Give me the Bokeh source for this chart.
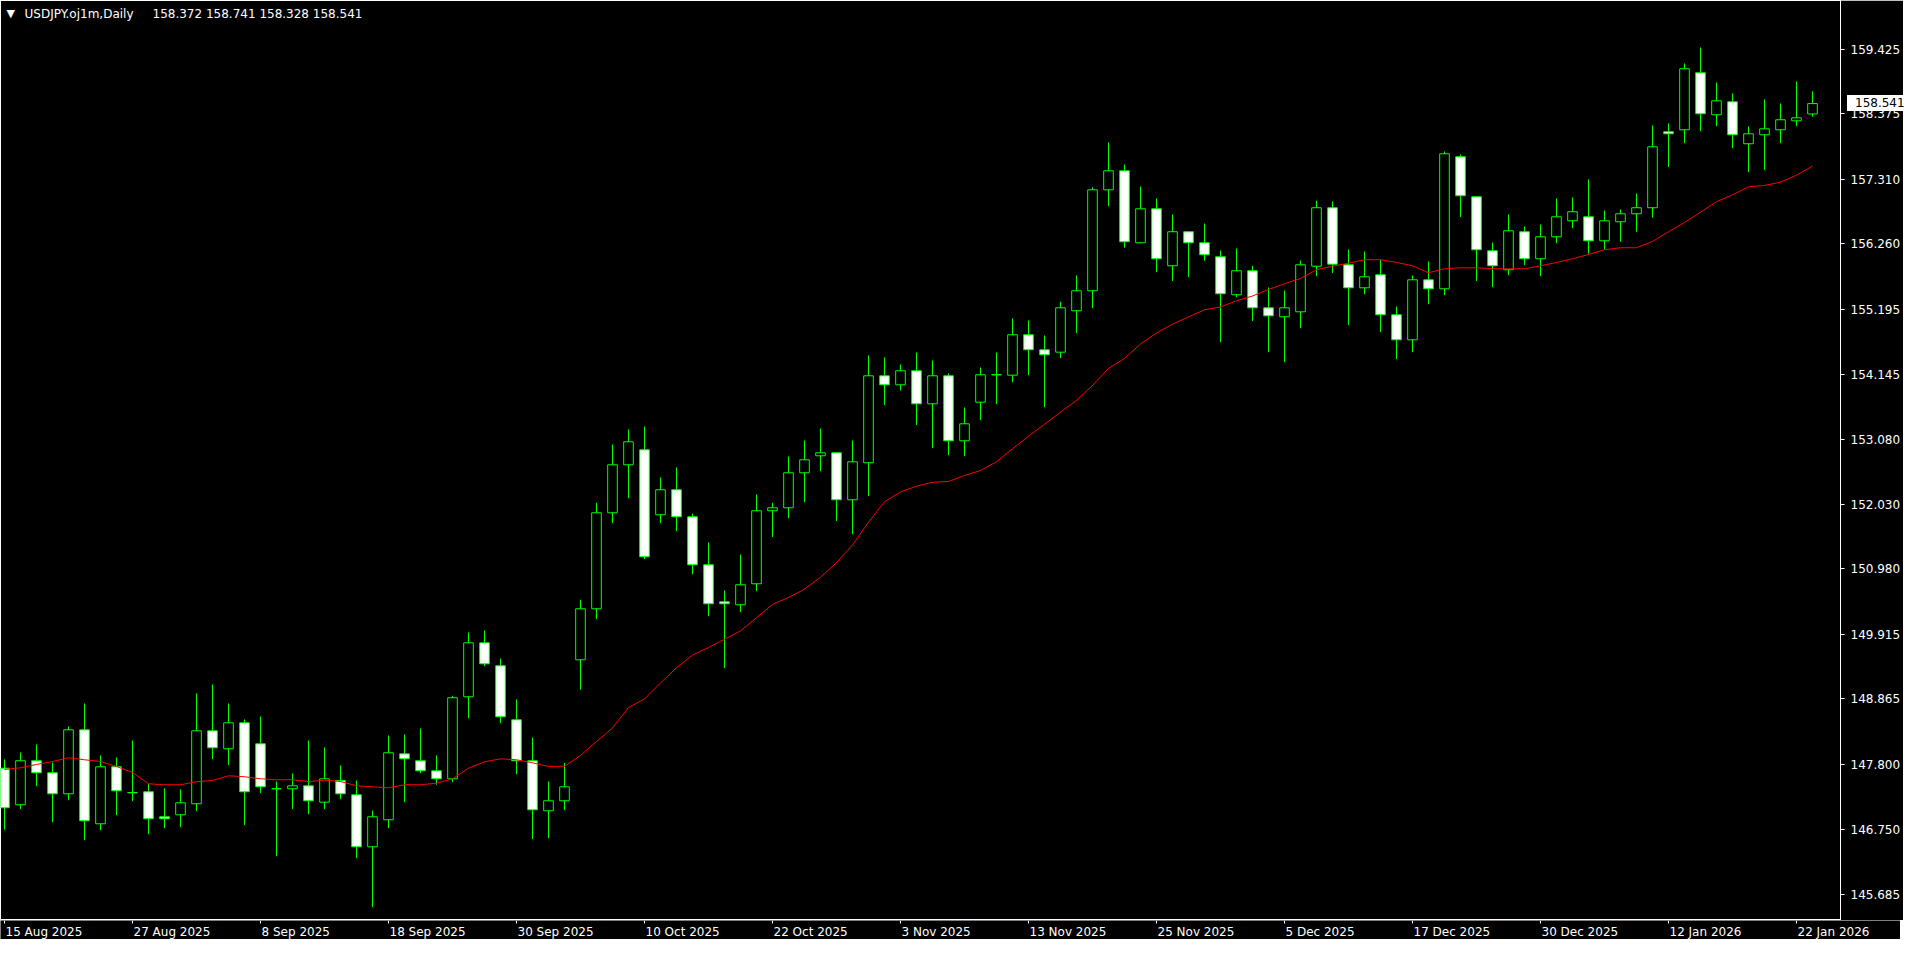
from bokeh.plotting import figure
from bokeh.models import ColumnDataSource, Range1d, FixedTicker, NumeralTickFormatter, Label, Div
from bokeh.layouts import column
from bokeh.embed import file_html
from bokeh.resources import INLINE
from bokeh.core.properties import value

symbol = "USDJPY.oj1m,Daily"

opens = [
    147.740, 147.146, 147.861, 147.666, 147.324, 148.364, 146.837, 147.763, 147.345, 147.357,
    146.951, 146.983, 147.162, 148.348, 148.056, 148.478, 148.137, 147.406, 147.406, 147.454,
    147.188, 147.541, 147.308, 146.463, 146.902, 147.974, 147.861, 147.698, 147.568, 148.901,
    149.778, 149.405, 148.527, 147.861, 147.048, 147.211, 149.502, 150.331, 151.891, 152.671,
    152.915, 151.859, 152.265, 151.826, 151.046, 150.445, 150.396, 150.737, 151.924, 151.972,
    152.541, 152.817, 152.866, 152.102, 152.704, 154.117, 153.971, 154.199, 153.662, 154.117,
    153.061, 153.688, 154.136, 154.127, 154.784, 154.540, 154.501, 155.174, 155.499, 157.140,
    157.449, 156.279, 156.831, 155.905, 156.458, 156.279, 156.051, 155.434, 155.824, 155.222,
    155.076, 155.157, 155.898, 156.848, 155.921, 155.547, 155.759, 155.109, 154.702, 155.677,
    155.531, 157.676, 157.026, 156.149, 155.840, 156.458, 156.019, 156.376, 156.636, 156.701,
    156.311, 156.620, 156.750, 156.848, 158.083, 158.115, 159.041, 158.359, 158.570, 157.888,
    158.034, 158.115, 158.261, 158.372]

highs = [
    147.882, 147.996, 148.126, 147.833, 148.418, 148.792, 147.947, 147.914, 148.191, 147.487,
    147.411, 147.394, 148.955, 149.101, 148.792, 148.532, 148.581, 147.524, 147.654, 148.191,
    148.077, 147.784, 147.541, 147.053, 148.272, 148.288, 148.386, 147.947, 148.917, 149.946,
    149.978, 149.523, 148.857, 148.239, 147.524, 147.828, 150.477, 152.054, 153.001, 153.245,
    153.294, 152.465, 152.627, 151.875, 151.408, 150.628, 151.213, 152.188, 152.054, 152.806,
    153.066, 153.261, 152.870, 153.066, 154.447, 154.415, 154.301, 154.496, 154.366, 154.155,
    153.602, 154.252, 154.496, 155.049, 155.016, 154.772, 155.320, 155.747, 157.178, 157.909,
    157.551, 157.194, 156.999, 156.739, 156.465, 156.592, 156.154, 156.186, 155.905, 155.552,
    155.504, 155.991, 156.966, 156.950, 156.170, 156.137, 156.002, 155.244, 155.747, 155.975,
    157.763, 157.714, 157.030, 156.284, 156.739, 156.544, 156.576, 156.999, 157.015, 157.308,
    156.804, 156.820, 157.080, 158.185, 158.218, 159.193, 159.453, 158.884, 158.705, 158.169,
    158.608, 158.543, 158.900, 158.741]

lows = [
    146.739, 147.074, 147.448, 146.863, 147.220, 146.570, 146.733, 146.977, 147.204, 146.668,
    146.765, 146.782, 147.042, 147.887, 147.789, 146.814, 147.334, 146.310, 147.074, 146.993,
    147.074, 147.237, 146.278, 145.482, 146.765, 147.188, 147.659, 147.471, 147.513, 148.553,
    149.398, 148.472, 147.643, 146.587, 146.603, 147.058, 149.015, 150.162, 151.722, 152.128,
    151.137, 151.722, 151.592, 150.893, 150.211, 149.366, 150.276, 150.617, 151.495, 151.803,
    152.063, 152.567, 151.755, 151.543, 152.161, 153.640, 153.879, 153.315, 152.941, 152.827,
    152.811, 153.396, 153.656, 154.013, 154.127, 153.607, 154.403, 154.810, 155.216, 156.874,
    156.198, 156.270, 155.801, 155.655, 155.720, 155.986, 154.663, 155.395, 155.005, 154.501,
    154.338, 154.891, 155.736, 155.785, 154.940, 155.443, 154.826, 154.387, 154.501, 155.281,
    155.427, 156.695, 155.655, 155.557, 155.752, 155.915, 155.736, 156.272, 156.516, 156.100,
    156.165, 156.295, 156.458, 156.685, 157.511, 157.897, 158.092, 158.174, 157.816, 157.426,
    157.459, 157.897, 158.174, 158.328]

closes = [
    147.097, 147.861, 147.666, 147.324, 148.364, 146.886, 147.763, 147.373, 147.340, 146.918,
    146.918, 147.178, 148.348, 148.072, 148.478, 147.357, 147.438, 147.406, 147.454, 147.211,
    147.568, 147.324, 146.463, 146.951, 147.991, 147.893, 147.698, 147.568, 148.885, 149.778,
    149.437, 148.576, 147.861, 147.064, 147.211, 147.438, 150.331, 151.891, 152.671, 153.045,
    151.176, 152.265, 151.826, 151.046, 150.412, 150.412, 150.721, 151.924, 151.972, 152.541,
    152.752, 152.866, 152.102, 152.720, 154.117, 153.971, 154.199, 153.662, 154.117, 153.061,
    153.337, 154.134, 154.132, 154.784, 154.540, 154.459, 155.222, 155.499, 157.140, 157.449,
    156.295, 156.831, 156.019, 156.458, 156.279, 156.084, 155.450, 155.824, 155.222, 155.092,
    155.222, 155.921, 156.848, 155.931, 155.547, 155.726, 155.109, 154.702, 155.677, 155.531,
    157.725, 157.043, 156.165, 155.905, 156.474, 156.019, 156.376, 156.701, 156.783, 156.311,
    156.636, 156.750, 156.848, 157.839, 158.050, 159.107, 158.375, 158.586, 158.034, 158.050,
    158.131, 158.278, 158.310, 158.541]

ma_values = [
    147.719, 147.747, 147.801, 147.849, 147.910, 147.877, 147.849, 147.768, 147.671, 147.487,
    147.471, 147.471, 147.520, 147.541, 147.617, 147.601, 147.568, 147.552, 147.552, 147.524,
    147.546, 147.524, 147.454, 147.438, 147.422, 147.471, 147.471, 147.497, 147.568, 147.740,
    147.844, 147.893, 147.877, 147.828, 147.768, 147.773, 147.947, 148.174, 148.394, 148.727,
    148.865, 149.125, 149.374, 149.577, 149.702, 149.835, 149.972, 150.185, 150.401, 150.515,
    150.649, 150.844, 151.078, 151.368, 151.737, 152.070, 152.229, 152.323, 152.387, 152.400,
    152.497, 152.578, 152.720, 152.931, 153.134, 153.329, 153.526, 153.716, 153.960, 154.236,
    154.399, 154.634, 154.813, 154.956, 155.073, 155.190, 155.236, 155.336, 155.414, 155.520,
    155.613, 155.699, 155.840, 155.898, 155.947, 156.003, 156.003, 155.959, 155.905, 155.792,
    155.856, 155.872, 155.872, 155.858, 155.856, 155.856, 155.905, 155.959, 156.019, 156.089,
    156.165, 156.198, 156.198, 156.300, 156.457, 156.609, 156.776, 156.947, 157.056, 157.189,
    157.210, 157.264, 157.377, 157.524]

price_ticks = [145.685, 146.750, 147.800, 148.865, 149.915, 150.980, 152.030,
               153.080, 154.145, 155.195, 156.260, 157.310, 158.375, 159.425]

date_labels = ["15 Aug 2025", "27 Aug 2025", "8 Sep 2025", "18 Sep 2025", "30 Sep 2025",
               "10 Oct 2025", "22 Oct 2025", "3 Nov 2025", "13 Nov 2025", "25 Nov 2025",
               "5 Dec 2025", "17 Dec 2025", "30 Dec 2025", "12 Jan 2026", "22 Jan 2026"]
date_bars = [0, 8, 16, 24, 32, 40, 48, 56, 64, 72, 80, 88, 96, 104, 112]

FONT = "DejaVu Sans"
GREEN = "#00FF00"
RED = "#FF0000"

# layout constants (pixels)
FRAME_W, FRAME_H, AXIS_W, STRIP_H = 1840, 920, 60, 19
PX_PER_BAR = 16.0
PX_PER_YEN = 61.535
X0 = -0.25
Y_TOP = 160.216

n = min(len(opens), len(highs), len(lows), len(closes))
xs = list(range(n))
tops = [max(o, c) for o, c in zip(opens[:n], closes[:n])]
bottoms = [min(o, c) for o, c in zip(opens[:n], closes[:n])]
fills = ["#FFFFFF" if c < o else "#000000" for o, c in zip(opens[:n], closes[:n])]
src = ColumnDataSource(dict(x=xs, high=highs[:n], low=lows[:n], top=tops, bottom=bottoms, fill=fills))

p = figure(frame_width=FRAME_W, frame_height=FRAME_H,
           x_range=Range1d(X0, X0 + FRAME_W / PX_PER_BAR),
           y_range=Range1d(Y_TOP - FRAME_H / PX_PER_YEN, Y_TOP),
           output_backend="svg", toolbar_location=None, y_axis_location="right", x_axis_location=None,
           min_border_left=0, min_border_top=0, min_border_bottom=0, min_border_right=AXIS_W,
           background_fill_color="black", border_fill_color="black")
p.grid.visible = False
p.outline_line_color = "white"
p.outline_line_width = 1

p.segment(x0="x", y0="high", x1="x", y1="low", source=src, line_color=GREEN, line_width=1)
p.vbar(x="x", top="top", bottom="bottom", width=0.6, source=src,
       fill_color="fill", line_color=GREEN, line_width=1)
p.line(list(range(len(ma_values))), ma_values, line_color=RED, line_width=1)

ax = p.yaxis[0]
ax.ticker = FixedTicker(ticks=price_ticks)
ax.formatter = NumeralTickFormatter(format="0.000")
ax.axis_line_color = "white"
ax.major_tick_line_color = "white"
ax.major_tick_out = 4
ax.major_tick_in = 0
ax.minor_tick_line_color = None
ax.major_label_text_color = "white"
ax.major_label_text_font = FONT
ax.major_label_text_font_size = "12px"
ax.major_label_standoff = 6

# title text
p.add_layout(Label(x=6, y=FRAME_H - 13, x_units="screen", y_units="screen", text="\u25BC",
                   text_color="white", text_font=FONT, text_font_size="11px", text_baseline="middle"))
p.add_layout(Label(x=24, y=FRAME_H - 13, x_units="screen", y_units="screen", text=symbol,
                   text_color="white", text_font=FONT, text_font_size="12px", text_baseline="middle"))
ohlc_text = f"{opens[-1]:.3f} {highs[-1]:.3f} {lows[-1]:.3f} {closes[-1]:.3f}"
p.add_layout(Label(x=152, y=FRAME_H - 13, x_units="screen", y_units="screen", text=ohlc_text,
                   text_color="white", text_font=FONT, text_font_size="12px", text_baseline="middle"))

# date strip
p2 = figure(frame_width=FRAME_W + AXIS_W, frame_height=STRIP_H,
            x_range=Range1d(X0, X0 + (FRAME_W + AXIS_W) / PX_PER_BAR), y_range=Range1d(0, STRIP_H),
            output_backend="svg", toolbar_location=None, x_axis_location=None, y_axis_location=None,
            min_border_left=0, min_border_top=0, min_border_bottom=0, min_border_right=0,
            background_fill_color="black", border_fill_color="black")
p2.grid.visible = False
p2.outline_line_color = None
m = len(date_bars)
dsrc = ColumnDataSource(dict(x=date_bars, lab=date_labels, y0=[STRIP_H] * m,
                             y1=[STRIP_H - 3] * m, ty=[STRIP_H - 4] * m))
p2.segment(x0="x", y0="y0", x1="x", y1="y1", source=dsrc, line_color="white", line_width=1)
p2.text(x="x", y="ty", text="lab", source=dsrc, text_color="white", text_font=value(FONT),
        text_font_size="12px", text_align="left", text_baseline="top", x_offset=1)

# current price box sitting on the price axis
BOX_H = 16
box_top = round((Y_TOP - closes[-1]) * PX_PER_YEN - BOX_H / 2) - 5
price_box = Div(text=f"{closes[-1]:.3f}", width=58, height=BOX_H,
                styles={"position": "absolute", "left": f"{FRAME_W + 2}px", "top": f"{box_top}px",
                        "background-color": "white", "color": "black", "font-family": FONT,
                        "font-size": "12px", "line-height": f"{BOX_H}px", "padding-left": "8px",
                        "box-sizing": "border-box", "z-index": "10", "overflow": "hidden"})

layout = column(p, p2, price_box, spacing=0)
open("out.html", "w").write(file_html(layout, INLINE))
